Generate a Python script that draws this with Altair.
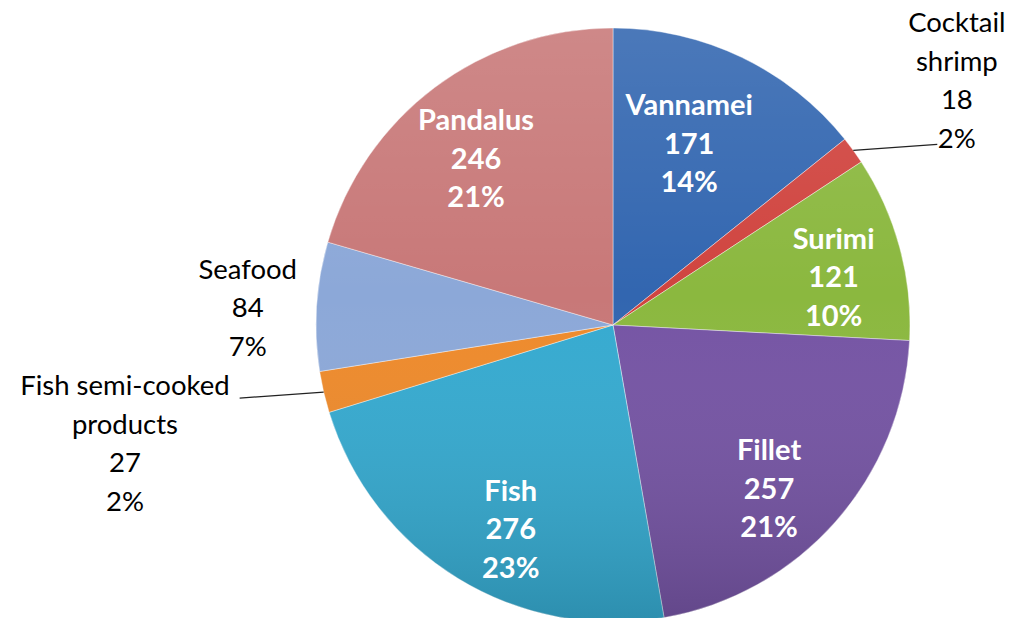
import math
import altair as alt
import pandas as pd

# ---- data ----
categories = ["Vannamei", "Cocktail shrimp", "Surimi", "Fillet", "Fish",
              "Fish semi-cooked products", "Seafood", "Pandalus"]
values = [171, 18, 121, 257, 276, 27, 84, 246]
percent_labels = ["14%", "2%", "10%", "21%", "23%", "2%", "7%", "21%"]
label_names = ["Vannamei", "Cocktail\nshrimp", "Surimi", "Fillet", "Fish",
               "Fish semi-cooked\nproducts", "Seafood", "Pandalus"]

# ---- styling / layout ----
colors = ["#3266B0", "#D0443F", "#8BB83F", "#7554A4", "#35AAD0",
          "#EE8A2B", "#8CA8D8", "#C87878"]
inside = [True, False, True, True, True, False, False, True]
label_radius = [202, 425, 227, 222, 223, 501, 366, 220]
label_turn_deg = [-3.5, 0, 1.5, 3.8, -4.2, 0, 0, -1.6]
has_leader = [False, True, False, False, False, True, False, False]

CX, CY, R = 605, 317, 297
LDX, LDY = 84, 6
LINE_H = 38.5
TEXT_DY = 7
FONT = "Lato"

labels = [f"{n}\n{v}\n{p}" for n, v, p in zip(label_names, values, percent_labels)]
df = pd.DataFrame({
    "idx": list(range(len(categories))),
    "cat": categories,
    "value": values,
    "label": labels,
    "nlines": [l.count("\n") + 1 for l in labels],
    "inside": inside,
    "lr": label_radius,
    "turn": label_turn_deg,
    "leader": has_leader,
})


def polar(chart):
    """Mid angle of each slice (same order as the stacked arcs) and label position."""
    return chart.transform_joinaggregate(
        total="sum(value)"
    ).transform_window(
        cum="sum(value)", sort=[alt.SortField("idx")], frame=[None, 0]
    ).transform_calculate(
        mid="2*PI*(datum.cum - datum.value/2)/datum.total",
    ).transform_calculate(
        la="datum.mid + datum.turn*PI/180",
        x1=f"{CX} + {R}*sin(datum.mid)",
        y1=f"{CY} - {R}*cos(datum.mid)",
    ).transform_calculate(
        lx=f"{CX} + datum.lr*sin(datum.la)",
        ly=f"{CY} - datum.lr*cos(datum.la) - (datum.nlines - 1)*{LINE_H}/2",
        x2=f"datum.x1 + (sin(datum.mid) > 0 ? {LDX} : -{LDX})",
        y2=f"datum.y1 + (sin(datum.mid) > 0 ? -{LDY} : {LDY})",
    )


pie = alt.Chart(df).mark_arc(outerRadius=R, stroke="#ffffff", strokeWidth=1,
                             strokeOpacity=0.4).encode(
    theta=alt.Theta("value:Q", stack=True),
    order=alt.Order("idx:Q"),
    color=alt.Color("cat:N", scale=alt.Scale(domain=categories, range=colors),
                    legend=None),
    x=alt.value(CX),
    y=alt.value(CY),
)

shade = alt.Chart(pd.DataFrame({"k": [0]})).mark_arc(
    outerRadius=R, theta=0, theta2=2 * math.pi,
    fill={"gradient": "linear", "x1": 0, "y1": 0, "x2": 0, "y2": 1,
          "stops": [{"offset": 0, "color": "rgba(255,255,255,0.12)"},
                    {"offset": 0.45, "color": "rgba(255,255,255,0.0)"},
                    {"offset": 1, "color": "rgba(0,0,0,0.16)"}]},
).encode(x=alt.value(CX), y=alt.value(CY))

txt_in = polar(alt.Chart(df)).transform_filter("datum.inside").mark_text(
    font=FONT, fontSize=29, fontWeight="bold", color="white", dy=TEXT_DY,
    lineBreak="\n", lineHeight=LINE_H, align="center", baseline="middle"
).encode(
    x=alt.X("lx:Q", scale=None),
    y=alt.Y("ly:Q", scale=None),
    text="label:N",
)

txt_out = polar(alt.Chart(df)).transform_filter("!datum.inside").mark_text(
    font=FONT, fontSize=27.5, color="black", dy=TEXT_DY,
    lineBreak="\n", lineHeight=LINE_H, align="center", baseline="middle"
).encode(
    x=alt.X("lx:Q", scale=None),
    y=alt.Y("ly:Q", scale=None),
    text="label:N",
)

leaders = polar(alt.Chart(df)).transform_filter("datum.leader").mark_rule(
    color="#222222", strokeWidth=1.2
).encode(
    x=alt.X("x1:Q", scale=None),
    y=alt.Y("y1:Q", scale=None),
    x2="x2:Q",
    y2="y2:Q",
)

chart = alt.layer(pie, shade, leaders, txt_in, txt_out).properties(
    width=1000, height=610, autosize="none", padding=0
).configure_view(stroke=None)

chart.save("out.html", embed_options={"renderer": "svg", "actions": False})
